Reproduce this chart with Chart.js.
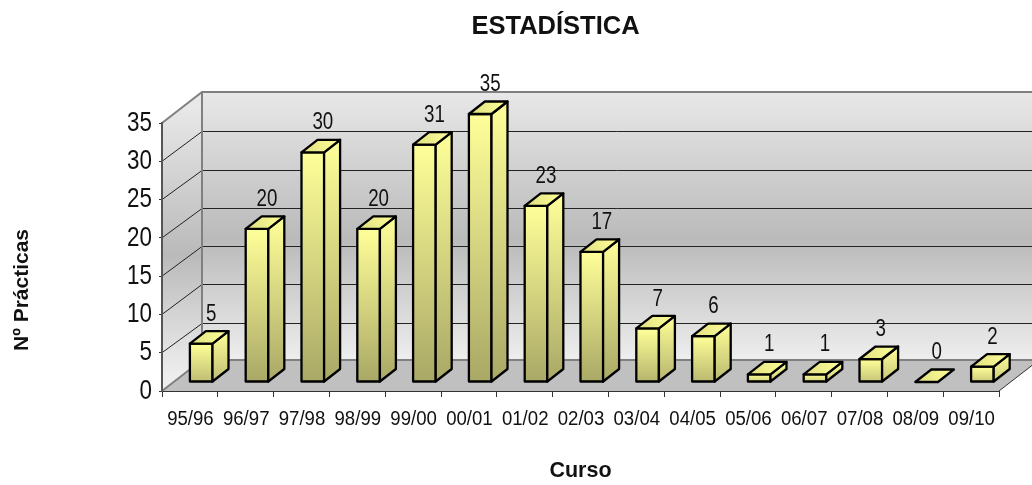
<!DOCTYPE html>
<html>
<head>
<meta charset="utf-8">
<title>Estadística</title>
<script src="https://cdn.jsdelivr.net/npm/chart.js@4"></script>
<style>
  html, body { margin: 0; background: #fff; }
  canvas { display: block; }
</style>
</head>
<body>
<canvas id="chart" width="1032" height="485"></canvas>
<script>
// ===== DATA =====
const cursos = ["95/96", "96/97", "97/98", "98/99", "99/00", "00/01", "01/02", "02/03",
                "03/04", "04/05", "05/06", "06/07", "07/08", "08/09", "09/10"];
const practicas = [5, 20, 30, 20, 31, 35, 23, 17, 7, 6, 1, 1, 3, 0, 2];
const yMax = 35;
const yStep = 5;

const chartTitle = "ESTADÍSTICA";
const xTitle = "Curso";
const yTitle = "Nº Prácticas";

// ===== 3D LOOK =====
const WALL = { dx: 40, dy: -31 };     // floor depth
const GRID_DY = -30;                  // grid lines land a bit lower on the back wall
const BOX = { dx: 16, dy: -12.5 };    // bar depth
const FRONT = { dx: 11.3, dy: -9 };   // bar front face offset from the axis plane
const FONT = "'Liberation Sans', Arial, sans-serif";
const TEXT = "#111111";

function wallGradient(ctx, top, bottom) {
  const g = ctx.createLinearGradient(0, top, 0, bottom);
  g.addColorStop(0, "#e8e8e8");
  g.addColorStop(0.55, "#bababa");
  g.addColorStop(1, "#eeeeee");
  return g;
}

function poly(ctx, pts, fill) {
  ctx.beginPath();
  pts.forEach((p, i) => (i ? ctx.lineTo(p[0], p[1]) : ctx.moveTo(p[0], p[1])));
  ctx.closePath();
  ctx.fillStyle = fill;
  ctx.fill();
  ctx.stroke();
}

// the labels in the picture are squeezed Arial, fillText's maxWidth does that
function squeezed(ctx, text, x, y, size, ratio, align) {
  ctx.font = size + "px " + FONT;
  ctx.fillStyle = TEXT;
  ctx.textAlign = align;
  ctx.textBaseline = "middle";
  ctx.fillText(text, x, y, ctx.measureText(text).width * ratio);
}

/* =========================
   WALLS, FLOOR, GRID
========================= */
const wallsPlugin = {
  id: "walls",
  beforeDraw(chart) {
    const { ctx, chartArea: a, scales } = chart;
    const l = a.left, r = a.right, t = a.top, b = a.bottom;
    const bx = l + WALL.dx, by = b + WALL.dy, ty = t + WALL.dy, rx = r + WALL.dx;

    ctx.save();
    // back + side wall fills
    ctx.fillStyle = wallGradient(ctx, ty, by);
    ctx.fillRect(bx, ty, rx - bx, by - ty);
    ctx.fillStyle = wallGradient(ctx, t + WALL.dy / 2, b + WALL.dy / 2);
    ctx.beginPath();
    ctx.moveTo(l, b); ctx.lineTo(bx, by); ctx.lineTo(bx, ty); ctx.lineTo(l, t);
    ctx.closePath();
    ctx.fill();

    // floor
    ctx.fillStyle = "#c0c0c0";
    ctx.beginPath();
    ctx.moveTo(l, b); ctx.lineTo(r, b); ctx.lineTo(rx, by); ctx.lineTo(bx, by);
    ctx.closePath();
    ctx.fill();

    // grid lines, taken from the value axis ticks
    ctx.strokeStyle = "#222222";
    ctx.lineWidth = 1;
    scales.y.ticks.forEach(tk => {
      if (tk.value === 0 || tk.value === yMax) return;
      const y = scales.y.getPixelForValue(tk.value);
      const yBack = Math.round(y + GRID_DY) + 0.5;
      ctx.beginPath();
      ctx.moveTo(l, y);
      ctx.lineTo(bx, yBack);
      ctx.lineTo(rx, yBack);
      ctx.stroke();
    });

    // wall edges
    ctx.strokeStyle = "#808080";
    ctx.lineWidth = 2;
    ctx.beginPath();
    ctx.moveTo(l, t); ctx.lineTo(bx, ty); ctx.lineTo(rx, ty);
    ctx.moveTo(bx, ty); ctx.lineTo(bx, by); ctx.lineTo(rx, by);
    ctx.moveTo(l, b); ctx.lineTo(bx, by);
    ctx.stroke();

    // right floor edge
    ctx.strokeStyle = "#333333";
    ctx.lineWidth = 1;
    ctx.beginPath();
    ctx.moveTo(r, b); ctx.lineTo(rx, by);
    ctx.stroke();
    ctx.restore();
  }
};

/* =========================
   3D BARS + LABELS
========================= */
const boxesPlugin = {
  id: "boxes",
  afterDatasetsDraw(chart) {
    const { ctx } = chart;
    const meta = chart.getDatasetMeta(0);

    ctx.save();
    ctx.lineWidth = 2.3;
    ctx.strokeStyle = "#000000";
    ctx.lineJoin = "round";

    meta.data.forEach((bar, i) => {
      const w = bar.width;
      const x0 = bar.x - w / 2 + FRONT.dx;
      const x1 = x0 + w;
      const yTop = bar.y + FRONT.dy;
      const yBot = bar.base + FRONT.dy;
      const dx = BOX.dx, dy = BOX.dy;

      // taller bars fade further towards olive
      const t = Math.min(1, 0.5 + practicas[i] / 20);
      const bot = `rgb(${255 - 86 * t}, ${255 - 87 * t}, ${153 - 51 * t})`;

      if (yBot - yTop > 0) {
        const gf = ctx.createLinearGradient(0, yTop, 0, yBot);
        gf.addColorStop(0, "#ffff99");
        gf.addColorStop(1, bot);
        poly(ctx, [[x0, yTop], [x1, yTop], [x1, yBot], [x0, yBot]], gf);

        const gs = ctx.createLinearGradient(0, yTop + dy, 0, yBot);
        gs.addColorStop(0, "#ffff99");
        gs.addColorStop(1, bot);
        poly(ctx, [[x1, yTop], [x1 + dx, yTop + dy], [x1 + dx, yBot + dy], [x1, yBot]], gs);
      }

      const gt = ctx.createLinearGradient(x0, yTop, x1 + dx, yTop + dy);
      gt.addColorStop(0, "#dfdf80");
      gt.addColorStop(1, "#ffff99");
      poly(ctx, [[x0, yTop], [x1, yTop], [x1 + dx, yTop + dy], [x0 + dx, yTop + dy]], gt);

      squeezed(ctx, String(practicas[i]), x0 + w / 2 + 10, yTop + dy - 17, 24, 0.78, "center");
    });
    ctx.restore();
  },
  afterDraw(chart) {
    const { ctx, scales } = chart;
    ctx.save();

    // tick labels from the axes themselves
    scales.x.ticks.forEach((tk, i) => {
      squeezed(ctx, tk.label, scales.x.getPixelForTick(i) + 0.5, 419.5, 20, 0.93, "center");
    });
    scales.y.ticks.forEach((tk, i) => {
      squeezed(ctx, tk.label, 152, scales.y.getPixelForTick(i), 28, 0.8, "right");
    });

    // y axis title sits off centre, so it is placed by hand
    ctx.translate(22, 290);
    ctx.rotate(-Math.PI / 2);
    ctx.fillStyle = TEXT;
    ctx.font = "bold 21px " + FONT;
    ctx.textAlign = "center";
    ctx.textBaseline = "middle";
    ctx.fillText(yTitle, 0, 0);
    ctx.restore();
  }
};

/* =========================
   TITLE SHIFT
========================= */
const titleShift = {
  id: "titleShift",
  afterLayout(chart) {
    chart.titleBlock.left += 56;
    chart.titleBlock.right += 56;
  }
};

new Chart(document.getElementById("chart"), {
  type: "bar",
  data: {
    labels: cursos,
    datasets: [{
      label: yTitle,
      data: practicas,
      backgroundColor: "rgba(0,0,0,0)",
      borderWidth: 0,
      categoryPercentage: 1,
      barPercentage: 0.405
    }]
  },
  plugins: [wallsPlugin, boxesPlugin, titleShift],
  options: {
    responsive: false,
    animation: false,
    layout: { padding: { left: 0, right: 33, top: 0, bottom: 0 } },
    plugins: {
      legend: { display: false },
      tooltip: { enabled: false },
      title: {
        display: true,
        text: chartTitle,
        color: TEXT,
        font: { family: FONT, size: 25.5, weight: "bold", lineHeight: 1.2 },
        padding: { top: 12, bottom: 80.4 }
      }
    },
    scales: {
      x: {
        afterFit(scale) { scale.height = 94; },
        border: { color: "#333333", width: 1 },
        grid: { drawOnChartArea: false, drawTicks: true, tickLength: 6, color: "#333333", offset: true },
        ticks: { display: false, autoSkip: false, maxRotation: 0, minRotation: 0 },
        title: {
          display: true,
          text: xTitle,
          color: TEXT,
          font: { family: FONT, size: 21.5, weight: "bold", lineHeight: 1.2 },
          padding: { top: 0, bottom: 1 }
        }
      },
      y: {
        min: 0,
        max: yMax,
        afterFit(scale) { scale.width = 162; },
        border: { color: "#555555", width: 2 },
        grid: { drawOnChartArea: false, drawTicks: true, tickLength: 3, color: "#333333" },
        ticks: { display: false, stepSize: yStep }
      }
    }
  }
});
</script>
</body>
</html>
